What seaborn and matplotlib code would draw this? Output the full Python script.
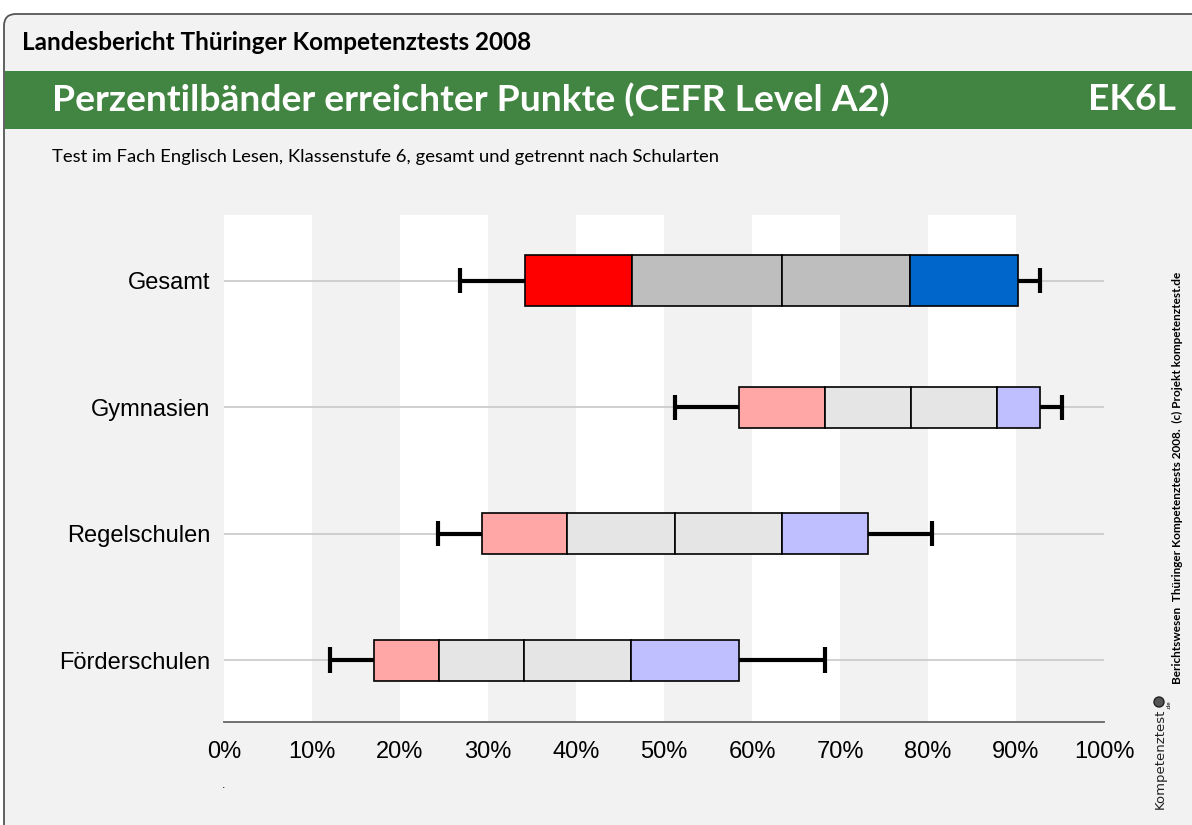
import pandas as pd
import matplotlib
matplotlib.use('Agg')
import matplotlib.pyplot as plt
from matplotlib.patches import FancyBboxPatch, Rectangle, Circle
import seaborn as sns

# Perzentile der erreichten Punkte (in %): 5, 10, 25, 50, 75, 90, 95
kategorien = ['Gesamt', 'Gymnasien', 'Regelschulen', 'Förderschulen']
p05 = [26.8, 51.2, 24.3, 12.1]
p10 = [34.2, 58.5, 29.3, 17.0]
p25 = [46.4, 68.3, 39.0, 24.4]
p50 = [63.4, 78.1, 51.2, 34.1]
p75 = [78.0, 87.8, 63.4, 46.3]
p90 = [90.2, 92.7, 73.2, 58.5]
p95 = [92.7, 95.2, 80.5, 68.3]

x_ticks = list(range(0, 101, 10))
x_labels = [f'{t}%' for t in x_ticks]

farben_gesamt = ['#ff0000', '#bebebe', '#bebebe', '#0066cc']
farben_schulart = ['#ffa6a6', '#e5e5e5', '#e5e5e5', '#bfbfff']

sns.set_style('white')
plt.rcParams['font.family'] = ['Liberation Sans', 'DejaVu Sans']
plt.rcParams['text.color'] = 'black'
plt.rcParams['xtick.labelcolor'] = 'black'
plt.rcParams['ytick.labelcolor'] = 'black'
kopf_font = ['Lato', 'DejaVu Sans']

W, H = 1192, 825
fig = plt.figure(figsize=(W / 100, H / 100), dpi=100)
fig.patch.set_facecolor('white')

# Rahmen + gruene Titelleiste (hinter der Achse)
rahmen = FancyBboxPatch((0.04, -0.3), 12.3, 8.41, boxstyle='round,pad=0,rounding_size=0.12',
                        transform=fig.dpi_scale_trans, facecolor='#f2f2f2',
                        edgecolor='#555555', linewidth=1.3, zorder=-2)
fig.patches.append(rahmen)
band = Rectangle((0.05, (H - 129) / 100), 12.0, 0.58, transform=fig.dpi_scale_trans,
                 facecolor='#428442', edgecolor='none', zorder=-1)
fig.patches.append(band)

fig.text(22 / W, 1 - 42 / H, 'Landesbericht Thüringer Kompetenztests 2008',
         family=kopf_font, fontweight='bold', fontsize=17.5, va='center', ha='left')
fig.text(52 / W, 1 - 100 / H, 'Perzentilbänder erreichter Punkte (CEFR Level A2)',
         family=kopf_font, fontweight='bold', fontsize=26.8, color='white', va='center', ha='left')
fig.text(1176 / W, 1 - 100 / H, 'EK6L', family=kopf_font, fontweight='bold', fontsize=26.8,
         color='white', va='center', ha='right')
fig.text(52 / W, 1 - 157 / H,
         'Test im Fach Englisch Lesen, Klassenstufe 6, gesamt und getrennt nach Schularten',
         family=kopf_font, fontsize=13.3, va='center', ha='left')

ax = fig.add_axes([224 / W, 103 / H, 880 / W, 507 / H])
ax.set_facecolor('#f2f2f2')

# weisse Bänder jede zweite Dekade
for k in range(0, 100, 20):
    ax.axvspan(k, k + 10, color='white', zorder=0, lw=0)
for i in range(len(kategorien)):
    ax.axhline(i, color='#c8c8c8', lw=1.2, zorder=1)

# Boxen: Segmente 10-25, 25-50, 50-75, 75-90
for i, kat in enumerate(kategorien):
    farben = farben_gesamt if i == 0 else farben_schulart
    breite = 0.40 if i == 0 else 0.325
    grenzen = [p10[i], p25[i], p50[i], p75[i], p90[i]]
    for j in range(4):
        sns.barplot(x=[grenzen[j + 1] - grenzen[j]], y=[kat], order=kategorien, orient='y',
                    left=[grenzen[j]], color=farben[j], saturation=1, width=breite,
                    edgecolor='black', linewidth=1.2, errorbar=None, ax=ax, zorder=3)

# Whisker 5-10 und 90-95
for i in range(len(kategorien)):
    ax.hlines(i, p05[i], p10[i], color='black', lw=3, zorder=2.5)
    ax.hlines(i, p90[i], p95[i], color='black', lw=3, zorder=2.5)
    ax.vlines([p05[i], p95[i]], i - 0.1, i + 0.1, color='black', lw=3, zorder=2.5)

ax.set_xlim(0, 100)
ax.set_ylim(3.49, -0.52)
ax.set_xticks(x_ticks)
ax.set_xticklabels(x_labels, fontsize=17)
ax.tick_params(axis='x', direction='out', length=8, width=1.3, color='#666666',
               labelcolor='black', pad=6)
ax.tick_params(axis='y', length=0, pad=10, labelsize=17, labelcolor='black')
ax.set_xlabel('')
ax.set_ylabel('')
for s in ['top', 'right', 'left']:
    ax.spines[s].set_visible(False)
ax.spines['bottom'].set_color('#666666')
ax.spines['bottom'].set_linewidth(1.3)

fig.text(224 / W, 1 - 785 / H, '.', fontsize=9, ha='center', va='center')

# Seitenleiste rechts
fig.text(1177 / W, 1 - 478 / H,
         'Berichtswesen  Thüringer Kompetenztests 2008.  (c) Projekt kompetenztest.de',
         family=kopf_font, fontweight='bold', fontsize=8.5, rotation=90, va='center', ha='center')
fig.text(1160 / W, 1 - 759 / H, 'Kompetenztest', family=['Liberation Sans Narrow', 'DejaVu Sans'],
         fontsize=9.5, rotation=90, va='center', ha='center', color='#222222')
fig.text(1169 / W, 1 - 705 / H, '.de', fontsize=4.5, rotation=90, va='center', ha='center')
fig.patches.append(Circle((1159, H - 702), 5, transform=None, facecolor='#555555',
                          edgecolor='#222222', lw=1))

fig.savefig('out.png', dpi=100)
